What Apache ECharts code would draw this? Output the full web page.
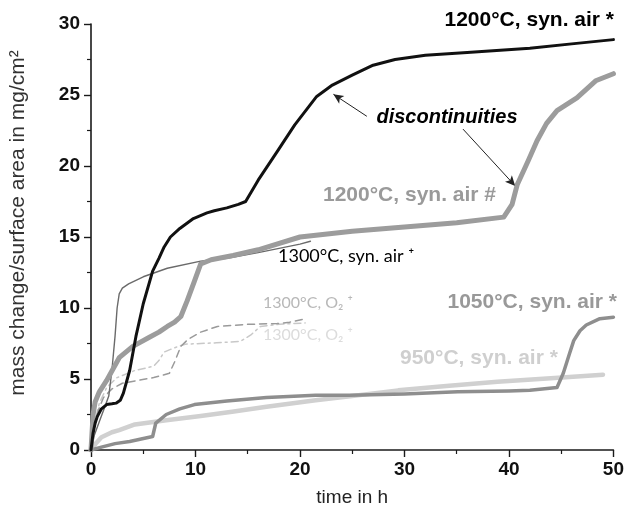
<!DOCTYPE html>
<html>
<head>
<meta charset="utf-8">
<script src="https://cdn.jsdelivr.net/npm/echarts@6/dist/echarts.min.js"></script>
<style>html,body{margin:0;padding:0;background:#fff}#c{width:627px;height:514px}</style>
</head>
<body>
<div id="c"></div>
<script>
// Data: [time in h, mass change in mg/cm²]
const air1200star = [[0,0],[0.2,1.2],[0.4,1.9],[0.6,2.35],[1,2.9],[1.5,3.2],[2,3.25],[2.4,3.3],[2.8,3.5],[3.1,4.0],[3.7,5.6],[4.3,8.0],[5,10.3],[5.9,12.6],[6.5,13.5],[7,14.3],[7.6,15.0],[8.5,15.6],[9.8,16.3],[11.1,16.7],[11.8,16.85],[13,17.05],[14.1,17.3],[14.8,17.5],[16,19.0],[17.8,21.0],[19.5,22.9],[21.6,24.9],[23.1,25.7],[25,26.4],[27,27.1],[29.1,27.5],[32,27.8],[36,28.0],[42,28.3],[46,28.6],[50,28.9]];
const air1200hash = [[0,0],[0.2,2.5],[0.4,3.4],[0.8,4.1],[1.5,4.9],[2.7,6.5],[4.0,7.3],[5.5,7.9],[6.5,8.3],[7.3,8.7],[8,9.0],[8.6,9.4],[9.2,10.5],[9.9,11.9],[10.5,13.1],[11.5,13.4],[13.6,13.7],[16,14.1],[20,15.0],[25,15.4],[30,15.7],[35,16.0],[39.5,16.4],[40.3,17.3],[40.8,18.7],[41.8,20.3],[42.7,21.8],[43.6,23.0],[44.6,23.9],[46.5,24.8],[48.3,26.0],[50,26.5]];
const air1300plus = [[0,0],[0.3,1.0],[0.8,2.0],[1.3,3.0],[1.7,3.8],[2.0,5.6],[2.3,8.0],[2.5,10.0],[2.7,11.0],[3.0,11.4],[3.6,11.7],[5,12.2],[7.3,12.8],[10.5,13.3],[13,13.5],[16,13.9],[20,14.5],[21,14.7]];
const o2a1300 = [[0,0],[0.3,1.5],[0.7,2.8],[1.2,3.7],[2,4.3],[3,4.7],[4.5,4.9],[6,5.1],[7.5,5.4],[8,6.2],[8.6,7.3],[9.3,7.8],[10.5,8.3],[12.1,8.7],[15,8.85],[17.8,8.9],[19,9.0],[20.6,9.25]];
const o2b1300 = [[0,0],[0.3,1.8],[0.8,3.3],[1.5,4.4],[2.5,5.1],[4.2,5.6],[6,5.9],[6.5,6.3],[7,6.9],[8,7.2],[9,7.45],[12,7.55],[14.3,7.65],[15.3,8.1],[16.2,8.7],[18,8.85],[20.5,8.95]];
const air1050 = [[0,0],[1,0.2],[2.3,0.45],[3.7,0.6],[5.9,0.95],[6.05,1.0],[6.2,1.9],[7.2,2.5],[8.5,2.9],[9.9,3.2],[13,3.45],[16.8,3.7],[21.5,3.85],[24.7,3.85],[30,3.95],[35.1,4.1],[40,4.15],[42,4.2],[44.6,4.4],[45.2,5.4],[45.8,6.8],[46.2,7.7],[46.8,8.4],[47.4,8.8],[48.7,9.25],[50,9.35]];
const air950 = [[0,0],[0.5,0.5],[1,0.9],[2,1.25],[2.7,1.4],[4.2,1.8],[7.2,2.1],[10.5,2.4],[13.5,2.7],[16.8,3.05],[21.5,3.5],[25,3.8],[29.4,4.2],[34,4.5],[38.9,4.8],[44,5.05],[49,5.3]];
const arrows = [[[26.4,23.5],[23.2,25.05]],[[35.6,22.6],[40.6,18.6]]];
const xTicks = {min:0, max:50, step:10};
const yTicks = {min:0, max:30, step:5};

const chart = echarts.init(document.getElementById('c'));
const axisCommon = {
  axisLine:{show:true, lineStyle:{color:'#1a1a1a', width:1.6}},
  axisTick:{show:true, inside:false, length:7, lineStyle:{color:'#1a1a1a', width:1.4}},
  minorTick:{show:true, splitNumber:2, length:4, lineStyle:{color:'#1a1a1a', width:1.2}},
  splitLine:{show:false},
  axisLabel:{color:'#111', fontWeight:'bold', fontSize:19, fontFamily:'Liberation Sans, Arial, sans-serif'}
};
function line(name, data, color, width, type, z){
  return {name, type:'line', data, showSymbol:false, symbol:'none', smooth:false, z,
    lineStyle:{color, width, type: type || 'solid', cap:'round', join:'round'}, animation:false};
}
const series = [
  line('1300°C, O2 + (b)', o2b1300, '#c8c8c8', 1.5, [7,4,2,4], 1),
  line('1300°C, O2 + (a)', o2a1300, '#9a9a9a', 1.5, [7,5], 2),
  line('1300°C, syn. air +', air1300plus, '#6a6a6a', 1.4, 'solid', 3),
  line('950°C, syn. air *', air950, '#d0d0d0', 4.5, 'solid', 4),
  line('1050°C, syn. air *', air1050, '#8e8e8e', 3.5, 'solid', 5),
  line('1200°C, syn. air #', air1200hash, '#9c9c9c', 5, 'solid', 6),
  line('1200°C, syn. air *', air1200star, '#111111', 3, 'solid', 7)
];
series[6].markLine = {
  silent:true, symbol:['none','arrow'], symbolSize:[7,10], animation:false,
  label:{show:false}, lineStyle:{color:'#222', width:1, type:'solid'},
  data: arrows.map(a => [{coord:a[0]},{coord:a[1]}])
};
const boldFont = 'Liberation Sans, Arial, sans-serif';
function txt(x, y, text, opts){
  return {type:'text', x, y, z:100, style:Object.assign({text, fill:'#000', fontFamily:boldFont, fontWeight:'bold', fontSize:21, align:'left', verticalAlign:'middle'}, opts||{})};
}
chart.setOption({
  animation:false,
  backgroundColor:'#fff',
  grid:{left:89, right:11, top:24, bottom:64, containLabel:false},
  xAxis:Object.assign({type:'value', min:xTicks.min, max:xTicks.max, interval:xTicks.step,
    name:'time in h', nameLocation:'middle', nameGap:38,
    nameTextStyle:{color:'#222', fontSize:19, fontFamily:boldFont}}, axisCommon,
    {axisLabel:Object.assign({}, axisCommon.axisLabel, {margin:10})}),
  yAxis:Object.assign({type:'value', min:yTicks.min, max:yTicks.max, interval:yTicks.step,
    name:'mass change/surface area in mg/cm²', nameLocation:'middle', nameGap:62, nameRotate:90,
    nameTextStyle:{color:'#333', fontSize:21, fontFamily:boldFont, padding:[0,0,0,28]}}, axisCommon,
    {axisLabel:Object.assign({}, axisCommon.axisLabel, {margin:11})}),
  series,
  graphic:[
    txt(614, 20, '1200°C, syn. air *', {align:'right', fill:'#000'}),
    txt(447, 117, 'discontinuities', {align:'center', fontStyle:'italic', fontSize:20, fill:'#000'}),
    txt(323, 195, '1200°C, syn. air #', {fill:'#9a9a9a'}),
    txt(278, 256, '1300°C, syn. air ⁺', {fontWeight:'normal', fontFamily:'Lato', fontSize:18, fill:'#000'}),
    txt(263, 303, '1300°C, O₂ ⁺', {fontWeight:'normal', fontFamily:'Lato', fontSize:16, fill:'#b8b8b8'}),
    txt(263, 335, '1300°C, O₂ ⁺', {fontWeight:'normal', fontFamily:'Lato', fontSize:16, fill:'#dcdcdc'}),
    txt(617, 302, '1050°C, syn. air *', {align:'right', fill:'#999'}),
    txt(400, 358, '950°C, syn. air *', {fill:'#cfcfcf'})
  ]
});
</script>
</body>
</html>
